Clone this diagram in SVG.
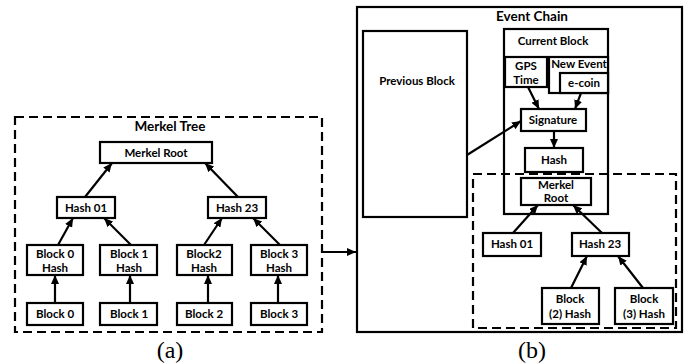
<svg xmlns="http://www.w3.org/2000/svg" width="688" height="364" viewBox="0 0 688 364">
<style>
.b{fill:#fff;stroke:#000;stroke-width:2.2}
.d{fill:none;stroke:#000;stroke-width:2.2;stroke-dasharray:9 5}
.t{font-family:Lato,"Open Sans",sans-serif;font-weight:bold;font-size:11.5px;text-anchor:middle;fill:#000}
.h{font-size:13.5px}
.c{font-family:"Liberation Serif",serif;font-size:24px;text-anchor:middle;fill:#000}
.a{stroke:#000;stroke-width:2.2;fill:none;marker-end:url(#ah)}
</style>
<defs>
<marker id="ah" markerUnits="userSpaceOnUse" markerWidth="9" markerHeight="8" refX="9" refY="4" orient="auto">
<path d="M0,0 L9,4 L0,8 Z" fill="#000"/>
</marker>
</defs>
<rect width="688" height="364" fill="#fff"/>

<g id="merkel-tree">
<rect class="d" x="15" y="117" width="307" height="215"/>
<text class="t h" x="170" y="131">Merkel Tree</text>
</g>
<g id="mr-a"><rect class="b" x="100" y="142" width="112" height="21"/><text class="t" x="156" y="157">Merkel Root</text></g>
<g id="h01-a"><rect class="b" x="57" y="197" width="58" height="21"/><text class="t" x="86" y="212">Hash 01</text></g>
<g id="h23-a"><rect class="b" x="208" y="197" width="58" height="21"/><text class="t" x="237" y="212">Hash 23</text></g>
<g id="b0h"><rect class="b" x="27" y="245" width="56" height="30"/><text class="t" x="55" y="258">Block 0</text><text class="t" x="55" y="272">Hash</text></g>
<g id="b1h"><rect class="b" x="100" y="245" width="57" height="30"/><text class="t" x="129" y="258">Block 1</text><text class="t" x="129" y="272">Hash</text></g>
<g id="b2h"><rect class="b" x="177" y="245" width="55" height="30"/><text class="t" x="204" y="258">Block2</text><text class="t" x="204" y="272">Hash</text></g>
<g id="b3h"><rect class="b" x="251" y="245" width="56" height="30"/><text class="t" x="279" y="258">Block 3</text><text class="t" x="279" y="272">Hash</text></g>
<g id="b0"><rect class="b" x="27" y="303" width="56" height="22"/><text class="t" x="55" y="318">Block 0</text></g>
<g id="b1"><rect class="b" x="100" y="303" width="57" height="22"/><text class="t" x="129" y="318">Block 1</text></g>
<g id="b2"><rect class="b" x="177" y="303" width="55" height="22"/><text class="t" x="204" y="318">Block 2</text></g>
<g id="b3"><rect class="b" x="251" y="303" width="56" height="22"/><text class="t" x="279" y="318">Block 3</text></g>

<g id="event-chain">
<rect class="b" x="357" y="7" width="325" height="325"/>
<text class="t h" x="532" y="21">Event Chain</text>
</g>
<g id="prev"><rect class="b" x="363" y="31" width="104" height="186"/><text class="t" x="417" y="85">Previous Block</text></g>
<g id="inner-tree"><rect class="d" x="473" y="174" width="203" height="154"/></g>
<g id="current"><rect class="b" x="504" y="29" width="104" height="185" style="fill:none"/><text class="t" x="553" y="45">Current Block</text></g>
<g id="gps"><rect class="b" x="505" y="57" width="42" height="30"/><text class="t" x="526" y="70">GPS</text><text class="t" x="526" y="84">Time</text></g>
<g id="newevent"><rect class="b" x="549" y="57" width="59" height="36"/><text class="t" x="579" y="68">New Event</text></g>
<g id="ecoin"><rect class="b" x="560" y="73" width="48" height="20"/><text class="t" x="584" y="87">e-coin</text></g>
<g id="sig"><rect class="b" x="521" y="109" width="65" height="22"/><text class="t" x="553" y="124">Signature</text></g>
<g id="hash"><rect class="b" x="525" y="148" width="58" height="24"/><text class="t" x="554" y="164">Hash</text></g>
<g id="mr-b"><rect class="b" x="521" y="178" width="70" height="27"/><text class="t" x="556" y="189">Merkel</text><text class="t" x="556" y="202">Root</text></g>
<g id="h01-b"><rect class="b" x="483" y="233" width="58" height="23"/><text class="t" x="512" y="248">Hash 01</text></g>
<g id="h23-b"><rect class="b" x="572" y="233" width="57" height="23"/><text class="t" x="600" y="248">Hash 23</text></g>
<g id="b2h-b"><rect class="b" x="542" y="288" width="57" height="36"/><text class="t" x="570" y="303">Block</text><text class="t" x="570" y="318">(2) Hash</text></g>
<g id="b3h-b"><rect class="b" x="615" y="288" width="58" height="36"/><text class="t" x="644" y="303">Block</text><text class="t" x="644" y="318">(3) Hash</text></g>

<g id="connectors">
<line class="a" x1="85" y1="197" x2="112" y2="163"/>
<line class="a" x1="238" y1="197" x2="205" y2="163"/>
<line class="a" x1="58" y1="245" x2="73" y2="218"/>
<line class="a" x1="131" y1="245" x2="104" y2="218"/>
<line class="a" x1="204" y1="245" x2="222" y2="218"/>
<line class="a" x1="280" y1="245" x2="253" y2="218"/>
<line class="a" x1="55" y1="303" x2="55" y2="275"/>
<line class="a" x1="130" y1="303" x2="130" y2="275"/>
<line class="a" x1="208" y1="303" x2="208" y2="275"/>
<line class="a" x1="278" y1="303" x2="278" y2="275"/>
<line class="a" x1="322" y1="252" x2="356" y2="252"/>
<line class="a" x1="528" y1="87" x2="539" y2="109"/>
<line class="a" x1="581" y1="93" x2="575" y2="109"/>
<line class="a" x1="554" y1="131" x2="554" y2="148"/>
<line class="a" x1="467" y1="155" x2="521" y2="121"/>
<line class="a" x1="513" y1="233" x2="538" y2="205"/>
<line class="a" x1="602" y1="233" x2="573" y2="205"/>
<line class="a" x1="571" y1="288" x2="587" y2="256"/>
<line class="a" x1="643" y1="288" x2="618" y2="256"/>
</g>

<text class="c" x="170" y="358">(a)</text>
<text class="c" x="532" y="358">(b)</text>
</svg>
